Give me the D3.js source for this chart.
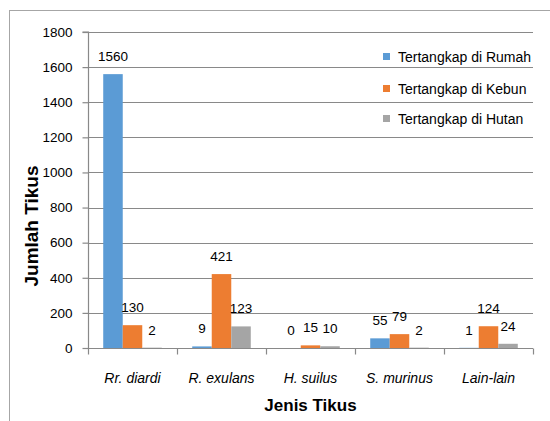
<!DOCTYPE html>
<html><head><meta charset="utf-8">
<script src="https://cdn.jsdelivr.net/npm/d3@7"></script>
<style>body{margin:0;background:#fff}svg{display:block}text{font-family:"Liberation Sans",Arial,sans-serif;fill:#000}</style>
</head><body>
<script>
const categories = ["Rr. diardi","R. exulans","H. suilus","S. murinus","Lain-lain"];
const seriesNames = ["Tertangkap di Rumah","Tertangkap di Kebun","Tertangkap di Hutan"];
const rumah = [1560, 9, 0, 55, 1];
const kebun = [130, 421, 15, 79, 124];
const hutan = [2, 123, 10, 2, 24];
const yTicks = [0,200,400,600,800,1000,1200,1400,1600,1800];
const colors = ["#5B9BD5","#ED7D31","#A5A5A5"];
const seriesValues = [rumah, kebun, hutan];

(function(){
const W = 550, H = 421;
const svg = d3.select("body").append("svg").attr("width", W).attr("height", H);

// chart frame
svg.append("rect").attr("x", 9.5).attr("y", 10.5).attr("width", 620).attr("height", 500)
  .attr("fill", "none").attr("stroke", "#a6a6a6").attr("stroke-width", 1);

const pL = 88, pR = 533, pT = 32, pB = 348;
const x0 = d3.scaleBand().domain(categories).range([pL, pR]).padding(0);
const x1 = d3.scaleBand().domain(seriesNames).range([0, x0.bandwidth()]).paddingInner(0).paddingOuter(0.78);
const y = d3.scaleLinear().domain([0, 1800]).range([pB, pT]);

// gridlines
svg.append("g").selectAll("line").data(yTicks.filter(d => d > 0)).join("line")
  .attr("x1", pL).attr("x2", pR)
  .attr("y1", d => Math.round(y(d)) + 0.5).attr("y2", d => Math.round(y(d)) + 0.5)
  .attr("stroke", "#898989").attr("stroke-width", 1.2);

// bars
const data = [];
categories.forEach((c, i) => seriesNames.forEach((s, j) => data.push({c, s, j, v: seriesValues[j][i]})));
svg.append("g").selectAll("rect").data(data).join("rect")
  .attr("x", d => x0(d.c) + x1(d.s))
  .attr("width", x1.bandwidth())
  .attr("y", d => y(d.v))
  .attr("height", d => Math.max(0, y(0) - y(d.v)))
  .attr("fill", d => colors[d.j]);

// y axis
const yAxis = svg.append("g").attr("transform", `translate(${pL + 0.5},0)`)
  .call(d3.axisLeft(y).tickValues(yTicks).tickSize(6).tickPadding(10).tickFormat(d3.format("d")));
yAxis.selectAll("path,line").attr("stroke", "#898989").attr("stroke-width", 1.2);
yAxis.select(".domain").attr("d", `M-6,${pT}H0V${pB}`);
yAxis.selectAll("text").attr("font-family", "Liberation Sans").attr("font-size", "13.5px").attr("fill", "#000");

// x axis
const xAxis = svg.append("g").attr("transform", `translate(0,${pB + 0.5})`);
xAxis.append("line").attr("x1", pL).attr("x2", pR).attr("stroke", "#898989").attr("stroke-width", 1.2);
const bounds = categories.map(c => x0(c)).concat([pR]);
xAxis.selectAll("line.tk").data(bounds).join("line").attr("class", "tk")
  .attr("x1", d => Math.round(d) + 0.5).attr("x2", d => Math.round(d) + 0.5).attr("y1", 0).attr("y2", 6)
  .attr("stroke", "#898989").attr("stroke-width", 1.2);
xAxis.selectAll("text").data(categories).join("text")
  .attr("x", d => x0(d) + x0.bandwidth() / 2).attr("y", 34)
  .attr("text-anchor", "middle").attr("font-style", "italic").attr("font-size", "14px")
  .text(d => d);

// value labels
svg.append("g").selectAll("text").data(data).join("text")
  .attr("x", d => x0(d.c) + x1(d.s) + x1.bandwidth() / 2)
  .attr("y", d => y(d.v) - 13)
  .attr("text-anchor", "middle").attr("font-size", "13.5px")
  .text(d => d.v);

// axis titles
svg.append("text").attr("transform", `translate(38,226) rotate(-90)`)
  .attr("text-anchor", "middle").attr("font-weight", "bold").attr("font-size", "19px")
  .text("Jumlah Tikus");
svg.append("text").attr("x", (pL + pR) / 2).attr("y", 411)
  .attr("text-anchor", "middle").attr("font-weight", "bold").attr("font-size", "17px")
  .text("Jenis Tikus");

// legend
const lg = svg.append("g");
const ly = [57, 89, 119];
seriesNames.forEach((s, i) => {
  lg.append("rect").attr("x", 383).attr("y", ly[i] - 4).attr("width", 7).attr("height", 7).attr("fill", colors[i]);
  lg.append("text").attr("x", 398).attr("y", ly[i] + 5).attr("font-size", "14px").text(s);
});
})();
</script>
</body></html>
